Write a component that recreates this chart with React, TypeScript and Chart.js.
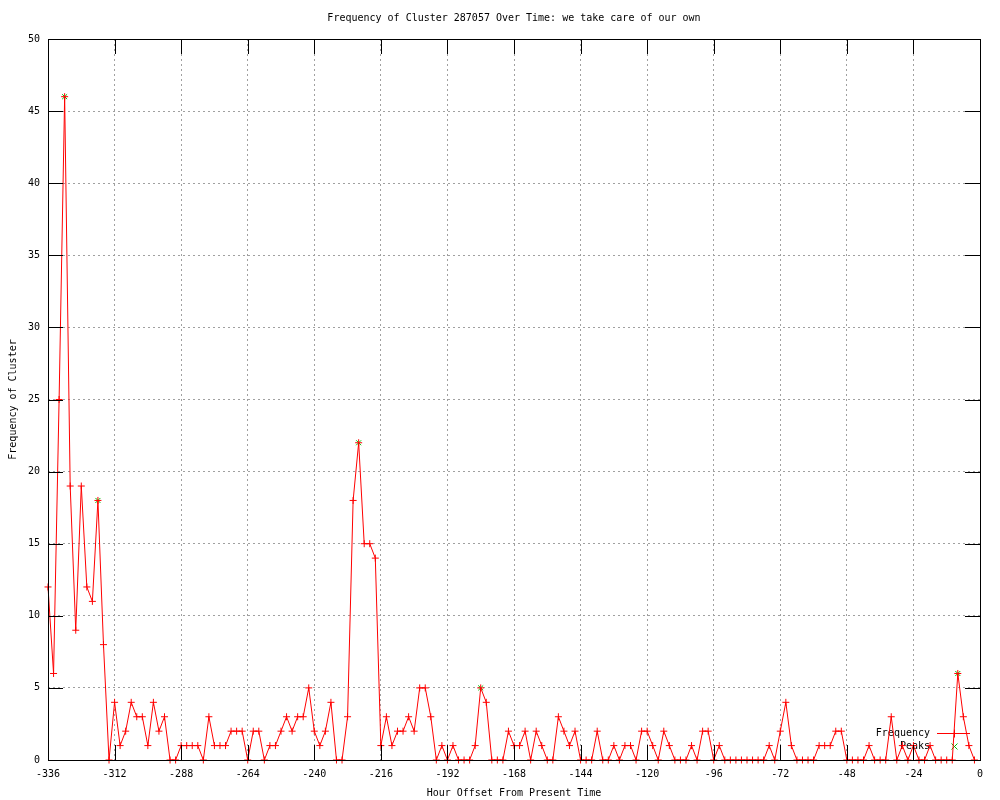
import React, { useEffect, useRef } from "react";
import { Chart, registerables } from "chart.js";

Chart.register(...registerables);

const titleText = "Frequency of Cluster 287057 Over Time: we take care of our own";
const xTitle = "Hour Offset From Present Time";
const yTitle = "Frequency of Cluster";

const hours = [
  -336, -334, -332, -330, -328, -326, -324, -322, -320, -318,
  -316, -314, -312, -310, -308, -306, -304, -302, -300, -298,
  -296, -294, -292, -290, -288, -286, -284, -282, -280, -278,
  -276, -274, -272, -270, -268, -266, -264, -262, -260, -258,
  -256, -254, -252, -250, -248, -246, -244, -242, -240, -238,
  -236, -234, -232, -230, -228, -226, -224, -222, -220, -218,
  -216, -214, -212, -210, -208, -206, -204, -202, -200, -198,
  -196, -194, -192, -190, -188, -186, -184, -182, -180, -178,
  -176, -174, -172, -170, -168, -166, -164, -162, -160, -158,
  -156, -154, -152, -150, -148, -146, -144, -142, -140, -138,
  -136, -134, -132, -130, -128, -126, -124, -122, -120, -118,
  -116, -114, -112, -110, -108, -106, -104, -102, -100, -98,
  -96, -94, -92, -90, -88, -86, -84, -82, -80, -78,
  -76, -74, -72, -70, -68, -66, -64, -62, -60, -58,
  -56, -54, -52, -50, -48, -46, -44, -42, -40, -38,
  -36, -34, -32, -30, -28, -26, -24, -22, -20, -18,
  -16, -14, -12, -10, -8, -6, -4, -2,
];

const frequency = [
  12, 6, 25, 46, 19, 9, 19, 12, 11, 18,
  8, 0, 4, 1, 2, 4, 3, 3, 1, 4,
  2, 3, 0, 0, 1, 1, 1, 1, 0, 3,
  1, 1, 1, 2, 2, 2, 0, 2, 2, 0,
  1, 1, 2, 3, 2, 3, 3, 5, 2, 1,
  2, 4, 0, 0, 3, 18, 22, 15, 15, 14,
  1, 3, 1, 2, 2, 3, 2, 5, 5, 3,
  0, 1, 0, 1, 0, 0, 0, 1, 5, 4,
  0, 0, 0, 2, 1, 1, 2, 0, 2, 1,
  0, 0, 3, 2, 1, 2, 0, 0, 0, 2,
  0, 0, 1, 0, 1, 1, 0, 2, 2, 1,
  0, 2, 1, 0, 0, 0, 1, 0, 2, 2,
  0, 1, 0, 0, 0, 0, 0, 0, 0, 0,
  1, 0, 2, 4, 1, 0, 0, 0, 0, 1,
  1, 1, 2, 2, 0, 0, 0, 0, 1, 0,
  0, 0, 3, 0, 1, 0, 1, 0, 0, 1,
  0, 0, 0, 0, 6, 3, 1, 0,
];

const peakHours = [-330, -318, -224, -180, -8];
const peakValues = [46, 18, 22, 5, 6];

const xTicks = [-336, -312, -288, -264, -240, -216, -192, -168, -144, -120, -96, -72, -48, -24, 0];
const yTicks = [0, 5, 10, 15, 20, 25, 30, 35, 40, 45, 50];

const FONT = "'DejaVu Sans Mono', 'Liberation Mono', monospace";
const RED = "#ff0000";
const GREEN = "#00c000";
const seriesColors = [RED, GREEN];

const boxPlugin = {
  id: "gnuBox",
  afterDatasetsDraw(chart: any) {
    const { ctx, chartArea } = chart;
    const { left, right, top, bottom } = chartArea;
    const xs = chart.scales.x;
    const ys = chart.scales.y;
    const tl = 15;
    ctx.save();
    ctx.setLineDash([]);
    ctx.strokeStyle = "#000000";
    ctx.lineWidth = 1;
    ctx.beginPath();
    for (const v of xTicks) {
      const px = Math.round(xs.getPixelForValue(v)) + 0.5;
      ctx.moveTo(px, bottom);
      ctx.lineTo(px, bottom - tl);
      ctx.moveTo(px, top);
      ctx.lineTo(px, top + tl);
    }
    for (const v of yTicks) {
      const py = Math.round(ys.getPixelForValue(v)) + 0.5;
      ctx.moveTo(left, py);
      ctx.lineTo(left + tl, py);
      ctx.moveTo(right, py);
      ctx.lineTo(right - tl, py);
    }
    ctx.stroke();
    ctx.strokeRect(Math.round(left) + 0.5, Math.round(top) + 0.5, Math.round(right - left), Math.round(bottom - top));
    ctx.restore();
  },
};

const keyPlugin = {
  id: "gnuKey",
  beforeDatasetsDraw(chart: any) {
    const { ctx, chartArea } = chart;
    const ds = chart.data.datasets;
    const textRight = chartArea.right - 50;
    const sampleL = chartArea.right - 43;
    const sampleR = chartArea.right - 10;
    const sampleC = Math.round((sampleL + sampleR) / 2) + 0.5;
    const y0 = chartArea.bottom - 27;
    ctx.save();
    ctx.setLineDash([]);
    ctx.font = `10px ${FONT}`;
    ctx.textAlign = "right";
    ctx.textBaseline = "middle";
    ds.forEach((d: any, i: number) => {
      const y = Math.round(y0 + i * 13) + 0.5;
      ctx.fillStyle = "#000000";
      ctx.fillText(d.label, textRight, y);
      ctx.strokeStyle = seriesColors[i];
      ctx.lineWidth = 1;
      ctx.beginPath();
      if (i === 0) {
        ctx.moveTo(sampleL, y);
        ctx.lineTo(sampleR, y);
        ctx.moveTo(sampleC, y - 4);
        ctx.lineTo(sampleC, y + 4);
      } else {
        const q = 3;
        ctx.moveTo(sampleC - q, y - q);
        ctx.lineTo(sampleC + q, y + q);
        ctx.moveTo(sampleC - q, y + q);
        ctx.lineTo(sampleC + q, y - q);
      }
      ctx.stroke();
    });
    ctx.restore();
  },
};

export default function App() {
  const ref = useRef<HTMLCanvasElement | null>(null);

  useEffect(() => {
    if (!ref.current) return;
    const freqData = hours.map((h, i) => ({ x: h, y: frequency[i] }));
    const peakData = peakHours.map((h, i) => ({ x: h, y: peakValues[i] }));
    const chart = new Chart(ref.current, {
      type: "line",
      data: {
        datasets: [
          {
            label: "Frequency",
            data: freqData,
            borderColor: RED,
            backgroundColor: RED,
            borderWidth: 1,
            pointStyle: "cross",
            pointRadius: 3.5,
            pointBorderColor: RED,
            pointBorderWidth: 1,
            tension: 0,
            fill: false,
            clip: false,
            order: 0,
          },
          {
            label: "Peaks",
            data: peakData,
            borderColor: GREEN,
            backgroundColor: GREEN,
            showLine: false,
            pointStyle: "crossRot",
            pointRadius: 3.5,
            pointBorderColor: GREEN,
            pointBorderWidth: 1,
            clip: false,
            order: 1,
          },
        ],
      },
      options: {
        responsive: false,
        animation: false,
        devicePixelRatio: 1,
        layout: { padding: { left: 0, right: 20, top: 0, bottom: 0 } },
        plugins: {
          legend: { display: false },
          tooltip: { enabled: false },
          title: {
            display: true,
            text: titleText,
            fullSize: false,
            color: "#000000",
            font: { family: FONT, size: 10, weight: "normal", lineHeight: 1.2 },
            padding: { top: 12, bottom: 15 },
          },
        },
        scales: {
          x: {
            type: "linear",
            min: -336,
            max: 0,
            afterFit: (s: any) => {
              s.height = 40;
            },
            afterBuildTicks: (s: any) => {
              s.ticks = xTicks.map((v) => ({ value: v }));
            },
            ticks: {
              stepSize: 24,
              autoSkip: false,
              maxRotation: 0,
              padding: 8,
              color: "#000000",
              font: { family: FONT, size: 10 },
              callback: (v: any) => String(v),
            },
            grid: { color: "#a0a0a0", lineWidth: 1, drawTicks: false },
            border: { display: false, dash: [2, 3] },
            title: {
              display: true,
              text: xTitle,
              color: "#000000",
              font: { family: FONT, size: 10, lineHeight: 1.2 },
              padding: { top: 0, bottom: 1 },
            },
          },
          y: {
            type: "linear",
            min: 0,
            max: 50,
            afterFit: (s: any) => {
              s.width = 48;
            },
            afterBuildTicks: (s: any) => {
              s.ticks = yTicks.map((v) => ({ value: v }));
            },
            ticks: {
              stepSize: 5,
              padding: 8,
              color: "#000000",
              font: { family: FONT, size: 10 },
              callback: (v: any) => String(v),
            },
            grid: { color: "#a0a0a0", lineWidth: 1, drawTicks: false },
            border: { display: false, dash: [2, 3] },
            title: {
              display: true,
              text: yTitle,
              color: "#000000",
              font: { family: FONT, size: 10, lineHeight: 1.2 },
              padding: { top: 7, bottom: 0 },
            },
          },
        },
      },
      plugins: [keyPlugin, boxPlugin],
    });
    return () => chart.destroy();
  }, []);

  return (
    <div style={{ position: "absolute", left: 0, top: 0, width: 1000, height: 800, background: "#ffffff" }}>
      <canvas ref={ref} width={1000} height={800} style={{ width: 1000, height: 800, display: "block" }} />
    </div>
  );
}
